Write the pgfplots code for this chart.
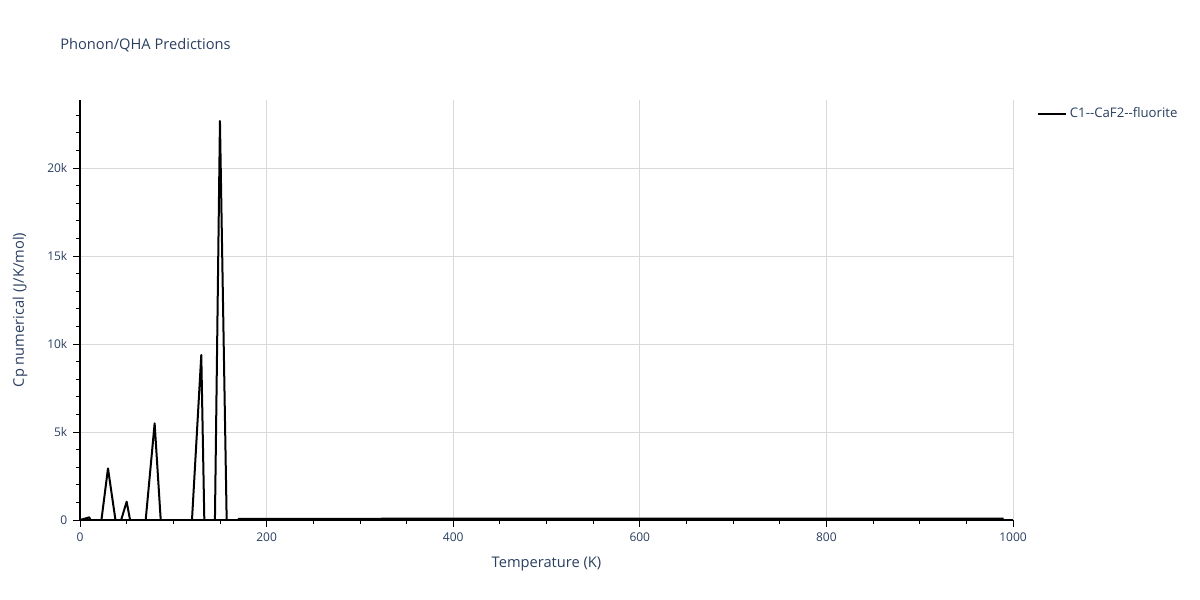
\documentclass[border=0pt]{standalone}
\usepackage{pgfplots}
\pgfplotsset{compat=1.18}
\usepackage{fontspec}
\setmainfont{Open Sans}
\definecolor{plotlytext}{HTML}{2A3F5F}
\definecolor{gridc}{HTML}{D9D9D9}
\begin{document}
\begin{tikzpicture}
\useasboundingbox (-60pt,-60pt) rectangle (840pt,390pt);
\begin{axis}[
  at={(0,0)}, anchor=south west,
  scale only axis,
  width=699.75pt, height=315pt,
  xmin=0, xmax=1000, ymin=0, ymax=23864,
  axis lines*=left,
  axis line style={-, black, line width=0.8pt},
  xtick={0,200,400,600,800,1000},
  minor xtick={50,100,150,250,300,350,450,500,550,650,700,750,850,900,950},
  ytick={0,5000,10000,15000,20000},
  yticklabels={0,5k,10k,15k,20k},
  minor ytick={1000,2000,3000,4000,6000,7000,8000,9000,11000,12000,13000,14000,16000,17000,18000,19000,21000,22000,23000},
  scaled y ticks=false,
  /pgf/number format/1000 sep={},
  tick align=outside,
  major tick length=5pt, minor tick length=3pt,
  tick style={black, line width=0.6pt},
  xmajorgrids, ymajorgrids,
  grid style={gridc, line width=0.6pt},
  ticklabel style={font=\fontsize{9}{10}\selectfont, text=plotlytext},
  /pgf/number format/assume math mode=true,
  xticklabel style={yshift=-1pt},
  yticklabel style={xshift=-1pt},
  xlabel={Temperature (K)},
  ylabel={Cp numerical (J/K/mol)},
  label style={font=\fontsize{11}{12}\selectfont, text=plotlytext},
  xlabel style={at={(axis description cs:0.5,0)}, anchor=center, yshift=-33pt},
  every axis y label/.append style={at={([xshift=-45pt]axis description cs:0,0.5)}, anchor=center},
  legend style={at={(axis description cs:1.0257,0.967)}, anchor=west, draw=none, fill=none,
    font=\fontsize{9.9}{11}\selectfont, text=plotlytext, inner sep=0pt},
  legend cell align=left,
  legend image code/.code={\draw[#1] (0pt,0pt) -- (21pt,0pt);},
]
\addplot[black, line width=1.5pt, line join=round] coordinates {
(0,0) (10,150) (20,-1240) (30,2930) (40,-725) (50,1040) (60,-1780) (70,-230)
(80,5490) (90,-2935) (100,-3000) (110,-2000) (120,-30) (130,9375) (140,-19500)
(150,22670) (160,-8800)
(170,66) (180,66.5) (190,67) (200,67.5) (210,68) (220,68.3) (230,68.6) (240,68.9)
(250,69.2) (260,69.5) (270,69.8) (280,70) (290,70.2) (300,70.4) (310,70.6) (320,70.8)
(330,71) (340,71.2) (350,71.4) (360,71.6) (370,71.8) (380,72) (390,72.2) (400,72.4)
(410,72.6) (420,72.8) (430,73) (440,73.2) (450,73.4) (460,73.6) (470,73.8) (480,74)
(490,74.2) (500,74.4) (510,74.6) (520,74.8) (530,75) (540,75.2) (550,75.4) (560,75.6)
(570,75.8) (580,76) (590,76.2) (600,76.4) (610,76.6) (620,76.8) (630,77) (640,77.2)
(650,77.4) (660,77.6) (670,77.8) (680,78) (690,78.2) (700,78.4) (710,78.6) (720,78.8)
(730,79) (740,79.2) (750,79.4) (760,79.6) (770,79.8) (780,80) (790,80.2) (800,80.4)
(810,80.6) (820,80.8) (830,81) (840,81.2) (850,81.4) (860,81.6) (870,81.8) (880,82)
(890,82.2) (900,82.4) (910,82.6) (920,82.8) (930,83) (940,83.2) (950,83.4) (960,83.6)
(970,83.8) (980,84) (990,84.2)
};
\addlegendentry{C1-{}-CaF2-{}-fluorite}
\end{axis}
\node[anchor=west, inner sep=0pt, font=\fontsize{11}{13}\selectfont, text=plotlytext] at (-15pt,356.25pt) {Phonon/QHA Predictions};
\end{tikzpicture}
\end{document}
